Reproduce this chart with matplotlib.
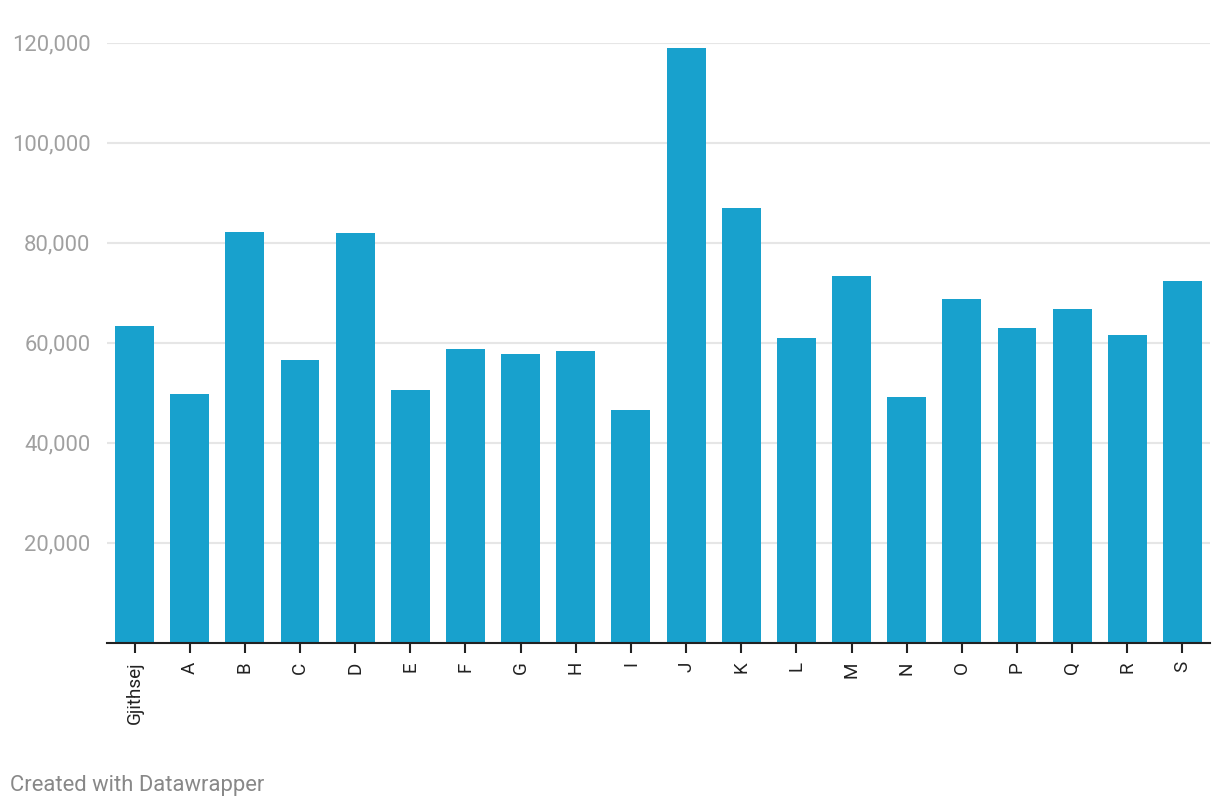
import matplotlib
matplotlib.use("Agg")
import matplotlib.pyplot as plt
from matplotlib.ticker import FuncFormatter

categories = ["Gjithsej", "A", "B", "C", "D", "E", "F", "G", "H", "I",
              "J", "K", "L", "M", "N", "O", "P", "Q", "R", "S"]
values = [63300, 49700, 82100, 56500, 81900, 50500, 58700, 57700, 58300, 46500,
          118900, 86900, 60900, 73300, 49100, 68700, 62900, 66700, 61500, 72300]
y_ticks = [20000, 40000, 60000, 80000, 100000, 120000]

plt.rcParams['font.family'] = ['Roboto', 'DejaVu Sans']

W, H = 1220, 810
fig = plt.figure(figsize=(W / 100, H / 100), dpi=100)
left, right, top, bottom = 107, 1210, 42.7, 642.5
ax = fig.add_axes([left / W, 1 - bottom / H, (right - left) / W, (bottom - top) / H])

x = list(range(len(categories)))
ax.bar(x, values, width=0.705, color="#18a1cd", zorder=2)
ax.set_xlim(-0.5, len(categories) - 0.5)
ax.set_ylim(0, 120000)

ax.set_yticks(y_ticks)
ax.yaxis.set_major_formatter(FuncFormatter(lambda v, p: f"{int(v):,}"))
ax.grid(axis="y", color="#e6e6e6", linewidth=1.5, zorder=0)
ax.tick_params(axis="y", length=0, pad=12, labelsize=15.8, labelcolor="#a0a0a0")

ax.set_xticks(x)
ax.set_xticklabels(categories, rotation=90, fontsize=13.6, color="#222222")
ax.tick_params(axis="x", length=7.5, width=1.5, color="#222222", pad=6)

for s in ["top", "right", "left"]:
    ax.spines[s].set_visible(False)
ax.spines["bottom"].set_color("#222222")
ax.spines["bottom"].set_linewidth(1.5)
ax.spines["bottom"].set_zorder(3)

fig.text(10 / W, 1 - 785 / H, "Created with Datawrapper", fontsize=15.8,
         color="#888888", ha="left", va="center")

fig.savefig("out.png", dpi=100)
